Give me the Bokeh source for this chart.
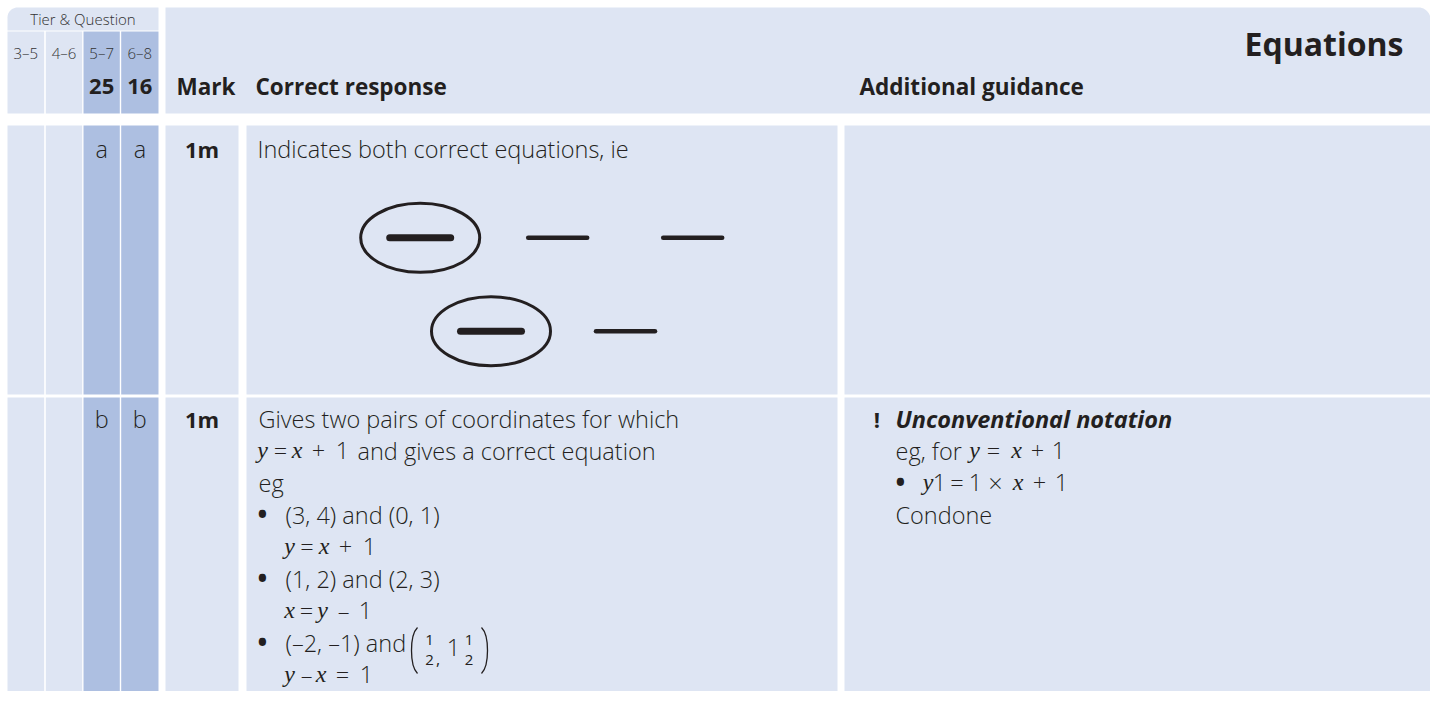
import numpy as np
from bokeh.plotting import figure
from bokeh.models import Range1d
from bokeh.core.properties import value
from bokeh.embed import file_html
from bokeh.resources import INLINE

# ---------------- data (table content) ----------------
tier_title = "Tier & Question"
tier_labels = ["3–5", "4–6", "5–7", "6–8"]
question_numbers = ["", "", "25", "16"]
header_labels = ["Mark", "Correct response", "Additional guidance"]
section_title = "Equations"
part_labels = [["", "", "a", "a"], ["", "", "b", "b"]]
marks = ["1m", "1m"]
response_a = "Indicates both correct equations, ie"
options_row1_circled = [True, False, False]
options_row2_circled = [True, False]
# tokens: (text, kind)  kind: s = sans, m = math italic, d = bullet
response_b_tokens = [
    [("Gives two pairs of coordinates for which", "s")],
    [("y", "m"), ("=", "s"), ("x", "m"), ("+", "s"), ("1", "s"),
     ("and gives a correct equation", "s")],
    [("eg", "s")],
    [("•", "d"), ("(3, 4) and (0, 1)", "s")],
    [("y", "m"), ("=", "s"), ("x", "m"), ("+", "s"), ("1", "s")],
    [("•", "d"), ("(1, 2) and (2, 3)", "s")],
    [("x", "m"), ("=", "s"), ("y", "m"), ("–", "s"), ("1", "s")],
    [("•", "d"), ("(–2, –1) and", "s")],
    [("y", "m"), ("–", "s"), ("x", "m"), ("=", "s"), ("1", "s")],
]
fraction_wholes = ["", "1"]
fraction_numerators = ["1", "1"]
fraction_denominators = ["2", "2"]
guidance_flag = "!"
guidance_heading = "Unconventional notation"
guidance_b_tokens = [
    [("eg, for", "s"), ("y", "m"), ("=", "s"), ("x", "m"), ("+", "s"), ("1", "s")],
    [("•", "d"), ("y", "m"), ("1", "s"), ("=", "s"), ("1", "s"), ("×", "s"),
     ("x", "m"), ("+", "s"), ("1", "s")],
    [("Condone", "s")],
]

# ---------------- layout / style ----------------
LIGHT = "#dee5f3"
DARK = "#adbfe1"
TXT = "#231f20"
SANS = "Open Sans"
LIGHTSANS = "'Open Sans Light', 'Open Sans'"
SERIF = "Liberation Serif"
BODY = 23.5
BASE_K = 0.42  # renderer places alphabetic text ~0.42em low; compensate

tier_cols = [(7, 43.7), (45.3, 81.7), (83, 119.3), (120.7, 158)]
tier_dark = [False, False, True, True]
mark_col = (165, 238)
resp_col = (246, 837)
guide_col = (844, 1430)
row_spans = [(125, 394), (397, 720)]

p = figure(width=1430, height=691, x_range=Range1d(0, 1430), y_range=Range1d(691, 0),
           output_backend="svg", toolbar_location=None, min_border=0,
           x_axis_location=None, y_axis_location=None)
p.grid.visible = False
p.outline_line_color = None
p.background_fill_color = "white"
p.border_fill_color = "white"


def rounded(l, r, t, b, rtl=0.0, rtr=0.0):
    xs, ys = [], []
    th = np.linspace(0, np.pi / 2, 12)
    if rtl:
        cx, cy = l + rtl, t + rtl
        xs += list(cx - rtl * np.cos(th))
        ys += list(cy - rtl * np.sin(th))
    else:
        xs.append(l); ys.append(t)
    if rtr:
        cx, cy = r - rtr, t + rtr
        xs += list(cx + rtr * np.cos(th[::-1]))
        ys += list(cy - rtr * np.sin(th[::-1]))
    else:
        xs.append(r); ys.append(t)
    xs += [r, l]
    ys += [b, b]
    return xs, ys


# header: tier box
hx, hy = rounded(7, 158, 7, 30, rtl=10)
p.patch(hx, hy, fill_color=LIGHT, line_color=None)
p.quad(left=[c[0] for c in tier_cols], right=[c[1] for c in tier_cols],
       top=[31] * 4, bottom=[113] * 4,
       fill_color=[DARK if d else LIGHT for d in tier_dark], line_color=None)
# header: main box
mx, my = rounded(165, 1430, 7, 113, rtr=12)
p.patch(mx, my, fill_color=LIGHT, line_color=None)

# body rows
for (t, b) in row_spans:
    p.quad(left=[c[0] for c in tier_cols], right=[c[1] for c in tier_cols],
           top=[t] * 4, bottom=[b] * 4,
           fill_color=[DARK if d else LIGHT for d in tier_dark], line_color=None)
    p.quad(left=[mark_col[0], resp_col[0], guide_col[0]],
           right=[mark_col[1], resp_col[1], guide_col[1]],
           top=[t] * 3, bottom=[b] * 3, fill_color=LIGHT, line_color=None)


def add_text(xs, ys, texts, font=LIGHTSANS, size=BODY, style="normal",
             align="left", color=TXT):
    if not texts:
        return
    yy = [y - BASE_K * size for y in ys]
    p.text(x=xs, y=yy, text=texts, text_font=value(font), text_font_size=f"{size}px",
           text_font_style=style, text_align=align, text_baseline="alphabetic",
           text_color=color)


tier_centers = [(c[0] + c[1]) / 2 for c in tier_cols]
add_text([82.5], [25], [tier_title], size=15, align="center", color="#333333")
add_text(tier_centers, [59] * 4, tier_labels, size=15, align="center", color="#333333")
add_text(tier_centers, [95] * 4, question_numbers, font=SANS, size=22,
         style="bold", align="center")
add_text([176, 255, 859], [95] * 3, header_labels, font=SANS, size=22.5, style="bold")
add_text([1403], [56], [section_title], font=SANS, size=32, style="bold", align="right")

# row parts and marks
row_base = [158, 428]
for i, labels in enumerate(part_labels):
    add_text(tier_centers, [row_base[i]] * 4, labels, align="center")
add_text([(mark_col[0] + mark_col[1]) / 2] * 2, row_base, marks, font=SANS, size=22,
         style="bold", align="center")

# row a
add_text([257], [158], [response_a])
opt1_x = [419.7, 557.2, 692.2]
opt2_x = [490.5, 625.0]
opt1_y, opt2_y = 237.3, 330.7
circ_x = [x for x, c in zip(opt1_x, options_row1_circled) if c] + \
         [x for x, c in zip(opt2_x, options_row2_circled) if c]
circ_y = [opt1_y for c in options_row1_circled if c] + [opt2_y for c in options_row2_circled if c]
p.ellipse(x=circ_x, y=circ_y, width=119, height=69, fill_color=None,
          line_color=TXT, line_width=3)
all_x = opt1_x + opt2_x
all_y = [opt1_y] * len(opt1_x) + [opt2_y] * len(opt2_x)
all_c = options_row1_circled + options_row2_circled
for x, y, c in zip(all_x, all_y, all_c):
    half = 30.5 if c else 29.5
    p.segment(x0=[x - half], y0=[y], x1=[x + half], y1=[y], line_color=TXT,
              line_width=7 if c else 4.5, line_cap="round")

# row b response: token anchor positions (x, alignment)
resp_pos = [
    [(258, "left")],
    [(262, "center"), (280, "center"), (296.5, "center"), (318, "center"),
     (342, "center"), (357, "left")],
    [(258, "left")],
    [(262, "center"), (285, "left")],
    [(289, "center"), (306.5, "center"), (323.5, "center"), (345, "center"), (369, "center")],
    [(262, "center"), (285, "left")],
    [(289, "center"), (306, "center"), (322, "center"), (343, "center"), (365, "center")],
    [(262, "center"), (285, "left")],
    [(289, "center"), (306, "center"), (320.5, "center"), (342, "center"), (366, "center")],
]
resp_y = [428 + 32 * i for i in range(len(response_b_tokens))]


def draw_tokens(tokens_lines, pos_lines, ys):
    groups = {}
    for toks, poss, y in zip(tokens_lines, pos_lines, ys):
        for (t, k), (x, a) in zip(toks, poss):
            g = groups.setdefault((k, a), ([], [], []))
            g[0].append(x); g[1].append(y); g[2].append(t)
    for (k, a), (xs, yy, tt) in groups.items():
        if k == "m":
            add_text(xs, yy, tt, font=SERIF, size=24, style="italic", align=a)
        elif k == "d":
            add_text(xs, yy, tt, font=SANS, size=26, style="bold", align=a)
        else:
            add_text(xs, yy, tt, align=a)


draw_tokens(response_b_tokens, resp_pos, resp_y)

# fractions (1/2, 1 1/2)
frac_c = [429, 468.5]
whole_x = [None, 453]
for i in range(2):
    add_text([frac_c[i]], [646], [fraction_numerators[i]], font=SANS, size=15, align="center")
    add_text([frac_c[i]], [666], [fraction_denominators[i]], font=SANS, size=15, align="center")
    if fraction_wholes[i]:
        add_text([whole_x[i]], [657], [fraction_wholes[i]], align="center")
add_text([435.5], [665], [","], font=SANS, size=16)
# big brackets
p.bezier(x0=[417], y0=[627], x1=[417], y1=[673], cx0=[409], cy0=[635], cx1=[409], cy1=[665],
         line_color=TXT, line_width=1.3)
p.bezier(x0=[481], y0=[627], x1=[481], y1=[673], cx0=[489], cy0=[635], cx1=[489], cy1=[665],
         line_color=TXT, line_width=1.3)

# row b guidance
add_text([876.5], [428], [guidance_flag], font=SANS, size=22, style="bold", align="center")
add_text([895], [428], [guidance_heading], font=SANS, size=BODY, style="bold italic")
guide_pos = [
    [(895, "left"), (974, "center"), (993, "center"), (1016, "center"),
     (1037, "center"), (1058, "center")],
    [(900, "center"), (927.5, "center"), (939, "center"), (956.5, "center"), (975, "center"),
     (995, "center"), (1017.5, "center"), (1039, "center"), (1061, "center")],
    [(895, "left")],
]
guide_y = [460, 492, 524]
draw_tokens(guidance_b_tokens, guide_pos, guide_y)

open("out.html", "w").write(file_html(p, INLINE))
